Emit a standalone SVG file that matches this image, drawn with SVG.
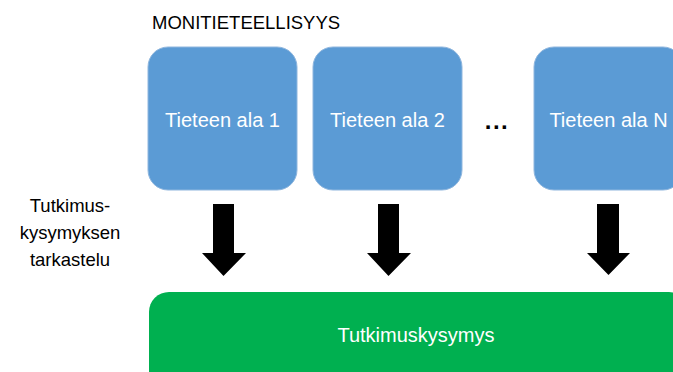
<svg xmlns="http://www.w3.org/2000/svg" width="673" height="372" viewBox="0 0 673 372">
<style>
.box{fill:#5B9BD5;stroke:#8FB6DE;stroke-width:1}
.bt{font-family:"Liberation Sans",Arial,sans-serif;font-size:20px;fill:#FFFFFF;text-anchor:middle}
.lbl{font-family:"Liberation Sans",Arial,sans-serif;font-size:18.5px;fill:#000000}
.arr{fill:#000000}
</style>
<rect width="673" height="372" fill="#FFFFFF"/>
<text class="lbl" x="152" y="29">MONITIETEELLISYYS</text>
<g id="ala1"><rect class="box" x="148" y="47" width="149" height="143" rx="20"/><text class="bt" x="222.5" y="127">Tieteen ala 1</text></g>
<g id="ala2"><rect class="box" x="313" y="47" width="149" height="143" rx="20"/><text class="bt" x="387.5" y="127">Tieteen ala 2</text></g>
<g id="dots"><text x="497" y="129" text-anchor="middle" font-family="Liberation Sans,Arial,sans-serif" font-size="24" font-weight="bold" letter-spacing="1.5">...</text></g>
<g id="alaN"><rect class="box" x="534" y="47" width="149" height="143" rx="20"/><text class="bt" x="608.5" y="127">Tieteen ala N</text></g>
<g id="tarkastelu"><text class="lbl" text-anchor="middle"><tspan x="70" y="212">Tutkimus-</tspan><tspan x="70" y="239">kysymyksen</tspan><tspan x="70" y="266">tarkastelu</tspan></text></g>
<g id="kysymys"><rect x="149" y="292" width="540" height="110" rx="20" fill="#00B050"/><text class="bt" x="416" y="342">Tutkimuskysymys</text></g>
<g id="connectors">
<polygon class="arr" points="213,204 234,204 234,253 246,253 223.5,276 202,253 213,253"/>
<polygon class="arr" points="378,204 399,204 399,253 411,253 388.5,276 367,253 378,253"/>
<polygon class="arr" points="597,204 619,204 619,253 630,253 608.5,275 587,253 597,253"/>
</g>
</svg>
